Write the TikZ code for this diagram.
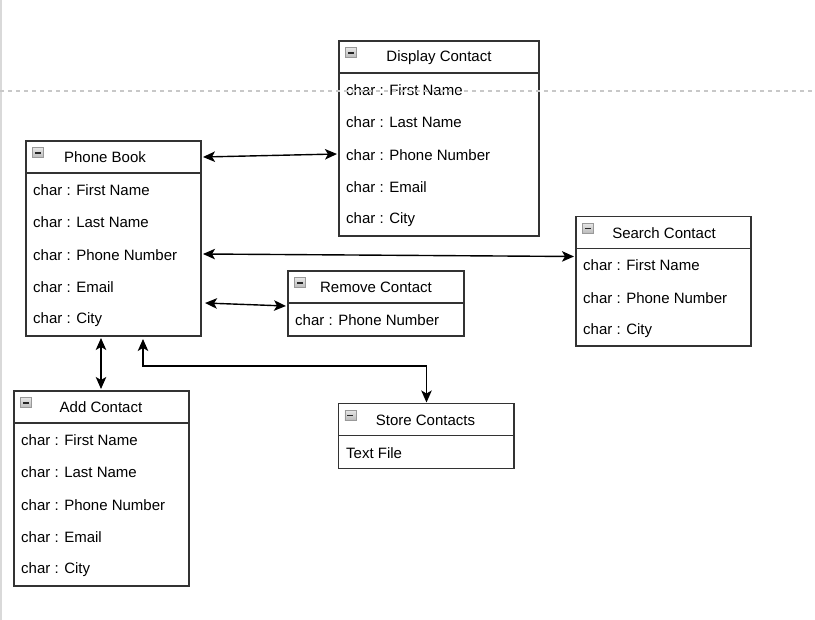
\documentclass[tikz,border=0pt]{standalone}
\usepackage{fontspec}
\setmainfont{Liberation Sans}
\usetikzlibrary{arrows.meta}
\definecolor{boxc}{HTML}{333333}
\definecolor{dashc}{HTML}{C8C8C8}
\definecolor{edgec}{HTML}{D9D9D9}
\tikzset{
  box/.style={draw=boxc, line width=1.5pt, inner sep=0pt, outer sep=0pt},
  boxline/.style={draw=boxc, line width=1.5pt},
  icon/.style={draw=gray!80, line width=0.8pt, minimum width=11pt, minimum height=10pt, inner sep=0pt,
    top color=gray!20, bottom color=gray!55,
    path picture={\draw[black!85, line width=1.6pt] ([xshift=2.5pt]path picture bounding box.west) -- ([xshift=-2.5pt]path picture bounding box.east);}},
  ttl/.style={font=\fontsize{15}{18}\selectfont, inner sep=0pt, text=black},
  row/.style={font=\fontsize{15}{18}\selectfont, inner sep=0pt, anchor=west, text=black},
  conn/.style={draw=black, line width=1.4pt, <->},
  >={Stealth[length=12pt,width=10.5pt,inset=3pt]}
}
\newcommand\umlbox[7]{%
  \node[box, minimum width=#4pt, minimum height=#5pt, anchor=north west] (#1) at (#2,#3) {};
  \draw[boxline] (#2,#3+32) -- ++(#4,0);
  \node[icon, anchor=north west] (#1-i) at (#2+6,#3+6.5) {};
  \node[ttl] (#1-t) at (#7,#3+16.5) {#6};
}
\begin{document}
\begin{tikzpicture}[x=1pt,y=-1pt]
\useasboundingbox (0,0) rectangle (815,620);
\fill[white] (0,0) rectangle (815,620);
\draw[edgec, line width=1.5pt] (0.75,0) -- (0.75,620);

% Phone Book
\umlbox{pb}{26}{141}{175}{195}{Phone Book}{105}
\node[row] (pb1) at (33,190) {char : First Name};
\node[row] (pb2) at (33,222.5) {char : Last Name};
\node[row] (pb3) at (33,255) {char : Phone Number};
\node[row] (pb4) at (33,287.5) {char : Email};
\node[row] (pb5) at (33,320) {char : City};

% Display Contact
\umlbox{dc}{339}{41}{200}{195}{Display Contact}{439}
\node[row] (dc1) at (346,90) {char : First Name};
\node[row] (dc2) at (346,122.5) {char : Last Name};
\node[row] (dc3) at (346,155) {char : Phone Number};
\node[row] (dc4) at (346,187.5) {char : Email};
\node[row] (dc5) at (346,220) {char : City};

% Search Contact
\umlbox{sc}{576}{216.5}{175}{129.5}{Search Contact}{664}
\node[row] (sc1) at (583,265.5) {char : First Name};
\node[row] (sc2) at (583,298) {char : Phone Number};
\node[row] (sc3) at (583,330.5) {char : City};

% Remove Contact
\umlbox{rc}{288}{271}{176}{65}{Remove Contact}{376}
\node[row] (rc1) at (295,320) {char : Phone Number};

% Add Contact
\umlbox{ac}{14}{391}{175}{195}{Add Contact}{101}
\node[row] (ac1) at (21,440) {char : First Name};
\node[row] (ac2) at (21,472.5) {char : Last Name};
\node[row] (ac3) at (21,505) {char : Phone Number};
\node[row] (ac4) at (21,537.5) {char : Email};
\node[row] (ac5) at (21,570) {char : City};

% Store Contacts
\umlbox{st}{338.5}{403.5}{175.5}{65}{Store Contacts}{425.5}
\node[row] (st1) at (346,453) {Text File};

% dashed guide
\draw[dashc, line width=1.3pt, dash pattern=on 4pt off 4pt] (0,91) -- (815,91);

% connectors
\draw[conn] ([shift={(2,16)}]pb.north east) -- ([shift={(-2,113)}]dc.north west);
\draw[conn] ([shift={(2,113)}]pb.north east) -- ([shift={(-2,40)}]sc.north west);
\draw[conn] ([shift={(4,162)}]pb.north east) -- ([shift={(-2,35)}]rc.north west);
\draw[conn] ([shift={(75,2)}]pb.south west) -- ([shift={(87,-2)}]ac.north west);
\draw[conn] ([shift={(117,3)}]pb.south west) -- ++(0,27) -| ([shift={(88,-1)}]st.north west);
\end{tikzpicture}
\end{document}
